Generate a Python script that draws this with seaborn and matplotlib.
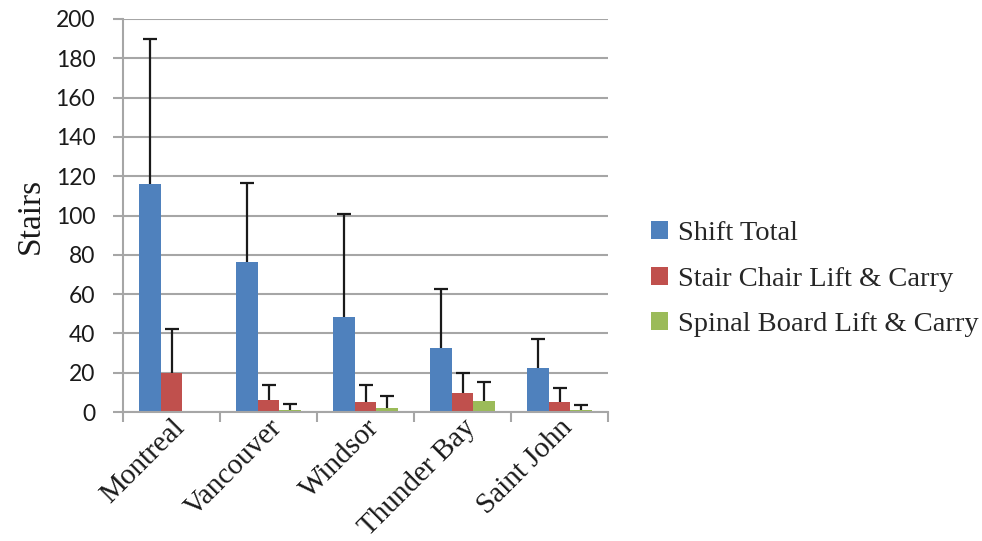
import pandas as pd
import seaborn as sns
import matplotlib.pyplot as plt
import numpy as np

# Data
cities = ['Montreal', 'Vancouver', 'Windsor', 'Thunder Bay', 'Saint John']
series = ['Shift Total', 'Stair Chair Lift & Carry', 'Spinal Board Lift & Carry']
shift_total = [116, 76.5, 48.5, 32.5, 22.5]
stair_chair = [20, 6, 5, 9.5, 5.3]
spinal_board = [0, 1, 2, 5.8, 1]
shift_total_err = [74, 40, 52.5, 30, 14.5]
stair_chair_err = [22, 8, 9, 10.5, 6.7]
spinal_board_err = [np.nan, 3, 6, 9.7, 2.5]
colors = ['#4F81BD', '#C0504D', '#9BBB59']

df = pd.DataFrame({
    'city': cities * 3,
    'series': np.repeat(series, len(cities)),
    'value': shift_total + stair_chair + spinal_board,
})
errs = [shift_total_err, stair_chair_err, spinal_board_err]

sns.set_style('white')
fig = plt.figure(figsize=(9.82, 5.41), dpi=100)
ax = fig.add_axes([0.1253, 0.2384, 0.4939, 0.7265])

sns.barplot(data=df, x='city', y='value', hue='series', order=cities, hue_order=series,
            palette=colors, width=0.67, gap=0, errorbar=None, saturation=1,
            edgecolor='none', ax=ax, zorder=2)

# Upper-only error bars on each bar (hide the lower caps)
for cont, err in zip(ax.containers, errs):
    xs = [p.get_x() + p.get_width() / 2 for p in cont]
    hs = [p.get_height() for p in cont]
    e = np.array(err, dtype=float)
    _, caps, _ = ax.errorbar(xs, hs, yerr=[np.zeros_like(e), e], fmt='none',
                             ecolor='#1a1a1a', elinewidth=1.6, capsize=4.7,
                             capthick=1.6, zorder=3)
    caps[0].set_visible(False)

ax.set_ylim(0, 200)
ax.set_xlim(-0.5, len(cities) - 0.5)
ax.set_yticks(np.arange(0, 201, 20))
ax.yaxis.grid(True, color='#A6A6A6', linewidth=1.5, zorder=0)
ax.set_axisbelow(True)

for s in ['top', 'right']:
    ax.spines[s].set_visible(False)
for s in ['left', 'bottom']:
    ax.spines[s].set_color('#A6A6A6')
    ax.spines[s].set_linewidth(1.5)

ax.tick_params(axis='y', direction='out', length=7, width=1.5, color='#A6A6A6',
               pad=13, labelsize=16.5, left=True)
for lbl in ax.get_yticklabels():
    lbl.set_family('Lato')
    lbl.set_color('#1a1a1a')

# category boundaries get the ticks, labels sit at centres
ax.set_xticks(np.arange(-0.5, len(cities), 1), minor=True)
ax.tick_params(axis='x', which='minor', direction='out', length=7, width=1.5,
               color='#A6A6A6', bottom=True)
ax.tick_params(axis='x', which='major', length=0, pad=2)
ax.set_xticks(range(len(cities)))
ax.set_xticklabels(cities, rotation=45, ha='right', rotation_mode='anchor',
                   family='Liberation Serif', fontsize=21, color='#1a1a1a')

ax.set_xlabel('')
ax.set_ylabel('Stairs', family='Liberation Serif', fontsize=24, color='#1a1a1a')
ax.yaxis.set_label_coords(-0.16, 0.5)

handles, labels = ax.get_legend_handles_labels()
ax.get_legend().remove()
fig.legend(handles, labels, loc='center left', bbox_to_anchor=(0.663, 0.484),
           frameon=False, prop={'family': 'Liberation Serif', 'size': 20.5},
           handlelength=0.6, handleheight=0.6, handletextpad=0.35,
           labelspacing=0.72, borderpad=0, borderaxespad=0)

fig.savefig('out.png', dpi=100)
